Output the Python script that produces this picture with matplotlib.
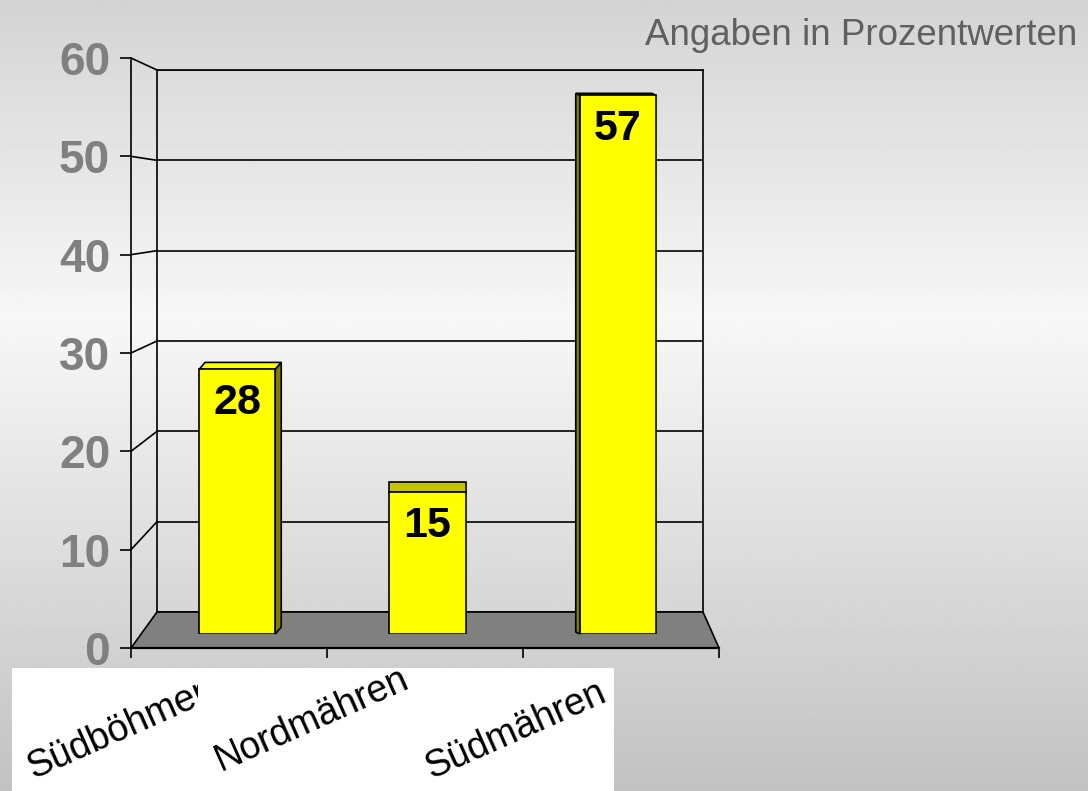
import numpy as np
import matplotlib
matplotlib.use("Agg")
import matplotlib.pyplot as plt
from matplotlib.patches import Polygon, Rectangle
from matplotlib.lines import Line2D
from matplotlib.transforms import IdentityTransform

# ---------------- data ----------------
categories = ["Südböhmen", "Nordmähren", "Südmähren"]
values = [28, 15, 57]
y_ticks = [0, 10, 20, 30, 40, 50, 60]
note_text = "Angaben in Prozentwerten"

# ---------------- style ----------------
W, H = 1088, 791
FONT = "Liberation Sans"
plt.rcParams["font.family"] = [FONT, "DejaVu Sans"]
BAR_FACE = "#ffff00"
SIDE_FACE = "#808000"
TOP_FACES = ["#ffff00", "#c4c400", "#ffff00"]
DEPTH = [(6, 7), (0, 10), (-4, 2)]          # pixel depth offset of each bar (perspective)
LBL_OFF = [(-196, 12), (-204, 20), (-190, 12)]  # category label anchor offsets (px)

fig = plt.figure(figsize=(W / 100, H / 100), dpi=100)


def rect(l, t, r, b):
    return [l / W, (H - b) / H, (r - l) / W, (b - t) / H]


ID = IdentityTransform()

# background gradient
ax_bg = fig.add_axes([0, 0, 1, 1], zorder=0)
yy = np.linspace(0, H, 400)
g = np.interp(yy, [0, 320, H], [0.83, 0.97, 0.76])
img = np.repeat(g[:, None], 2, axis=1)
ax_bg.imshow(img, cmap="gray", vmin=0, vmax=1, aspect="auto",
             extent=[0, 1, 0, 1], origin="upper")
ax_bg.set_axis_off()

ymax = y_ticks[-1]
lw = 1.2

# back wall
ax_back = fig.add_axes(rect(157, 70, 703, 612), zorder=1)
ax_back.patch.set_visible(False)
ax_back.set_xlim(-0.5, len(categories) - 0.5)
ax_back.set_ylim(0, ymax)
ax_back.set_yticks(y_ticks)
ax_back.set_xticks([])
ax_back.tick_params(left=False, labelleft=False)
ax_back.grid(axis="y", color="black", lw=lw)
for s in ax_back.spines.values():
    s.set_linewidth(lw)

# front axis
ax_front = fig.add_axes(rect(131, 58, 719, 648), zorder=4)
ax_front.patch.set_visible(False)
ax_front.set_xlim(-0.5, len(categories) - 0.5)
ax_front.set_ylim(0, ymax)
ax_front.set_yticks(y_ticks)
ax_front.set_xticks(np.arange(len(categories) + 1) - 0.5)
ax_front.set_xticklabels([])
ax_front.spines["top"].set_visible(False)
ax_front.spines["right"].set_visible(False)
ax_front.spines["left"].set_linewidth(lw)
ax_front.spines["bottom"].set_linewidth(1.6)
ax_front.tick_params(axis="y", direction="out", length=8, width=lw, pad=7,
                     labelsize=33, labelcolor="#808080")
ax_front.tick_params(axis="x", direction="out", length=7, width=lw)
for t in ax_front.get_yticklabels():
    t.set_fontweight("bold")

# bar plane (mid depth)
ax_bar = fig.add_axes(rect(142, 67, 713, 634), zorder=3)
ax_bar.patch.set_visible(False)
ax_bar.set_xlim(-0.5, len(categories) - 0.5)
ax_bar.set_ylim(0, ymax)
ax_bar.set_axis_off()

# left wall lines + floor (display coordinates from the axes' own transforms)
for v in y_ticks[1:]:
    p0 = ax_front.transData.transform((-0.5, v))
    p1 = ax_back.transData.transform((-0.5, v))
    fig.add_artist(Line2D([p0[0], p1[0]], [p0[1], p1[1]], color="black",
                          lw=lw, transform=ID, zorder=1.5))

xl, xr = -0.5, len(categories) - 0.5
floor = [ax_front.transData.transform((xl, 0)), ax_front.transData.transform((xr, 0)),
         ax_back.transData.transform((xr, 0)), ax_back.transData.transform((xl, 0))]
fig.add_artist(Polygon(floor, closed=True, facecolor="#808080", edgecolor="black",
                       lw=lw, transform=ID, zorder=2))

# bars
bw = 0.4
x = np.arange(len(categories))
ax_bar.bar(x, values, width=bw, color=BAR_FACE, edgecolor="black", lw=lw, zorder=3)
for i, v in enumerate(values):
    dx, dy = DEPTH[i]
    x0, x1 = i - bw / 2, i + bw / 2
    a = ax_bar.transData.transform((x0, v))
    b = ax_bar.transData.transform((x1, v))
    top = [a, b, b + (dx, dy), a + (dx, dy)]
    ax_bar.add_patch(Polygon(top, closed=True, facecolor=TOP_FACES[i], edgecolor="black",
                             lw=lw, transform=ID, clip_on=False, zorder=2.5))
    if dx != 0:
        xs = x1 if dx > 0 else x0
        c0 = ax_bar.transData.transform((xs, 0))
        c1 = ax_bar.transData.transform((xs, v))
        side = [c0, c1, c1 + (dx, dy), c0 + (dx, dy)]
        ax_bar.add_patch(Polygon(side, closed=True, facecolor=SIDE_FACE, edgecolor="black",
                                 lw=lw, transform=ID, clip_on=False, zorder=2.5))
    ax_bar.annotate(str(v), (i, v), xytext=(0, -34 * 0.72), textcoords="offset points",
                    ha="center", va="center", fontsize=31, fontweight="bold",
                    color="black", zorder=4)

# category label box
fig.add_artist(Rectangle((12, 0), 602, H - 668, facecolor="white", edgecolor="none",
                         transform=ID, zorder=5))
for i, c in enumerate(categories):
    px = ax_front.transData.transform((i, 0))
    ox, oy = LBL_OFF[i]
    t = fig.text(px[0] + ox, oy, c, transform=ID, rotation=24, rotation_mode="anchor",
                 ha="left", va="baseline", fontsize=27, color="black", zorder=6)
    if i == 0:
        clip = Rectangle((0, 0), 198, H, transform=ID)
        t.set_clip_path(clip)
        t.set_clip_on(True)

fig.text(645, H - 45, note_text, transform=ID, ha="left", va="baseline",
         fontsize=26.5, color="#606060", zorder=6)

fig.savefig("out.png", dpi=100)
